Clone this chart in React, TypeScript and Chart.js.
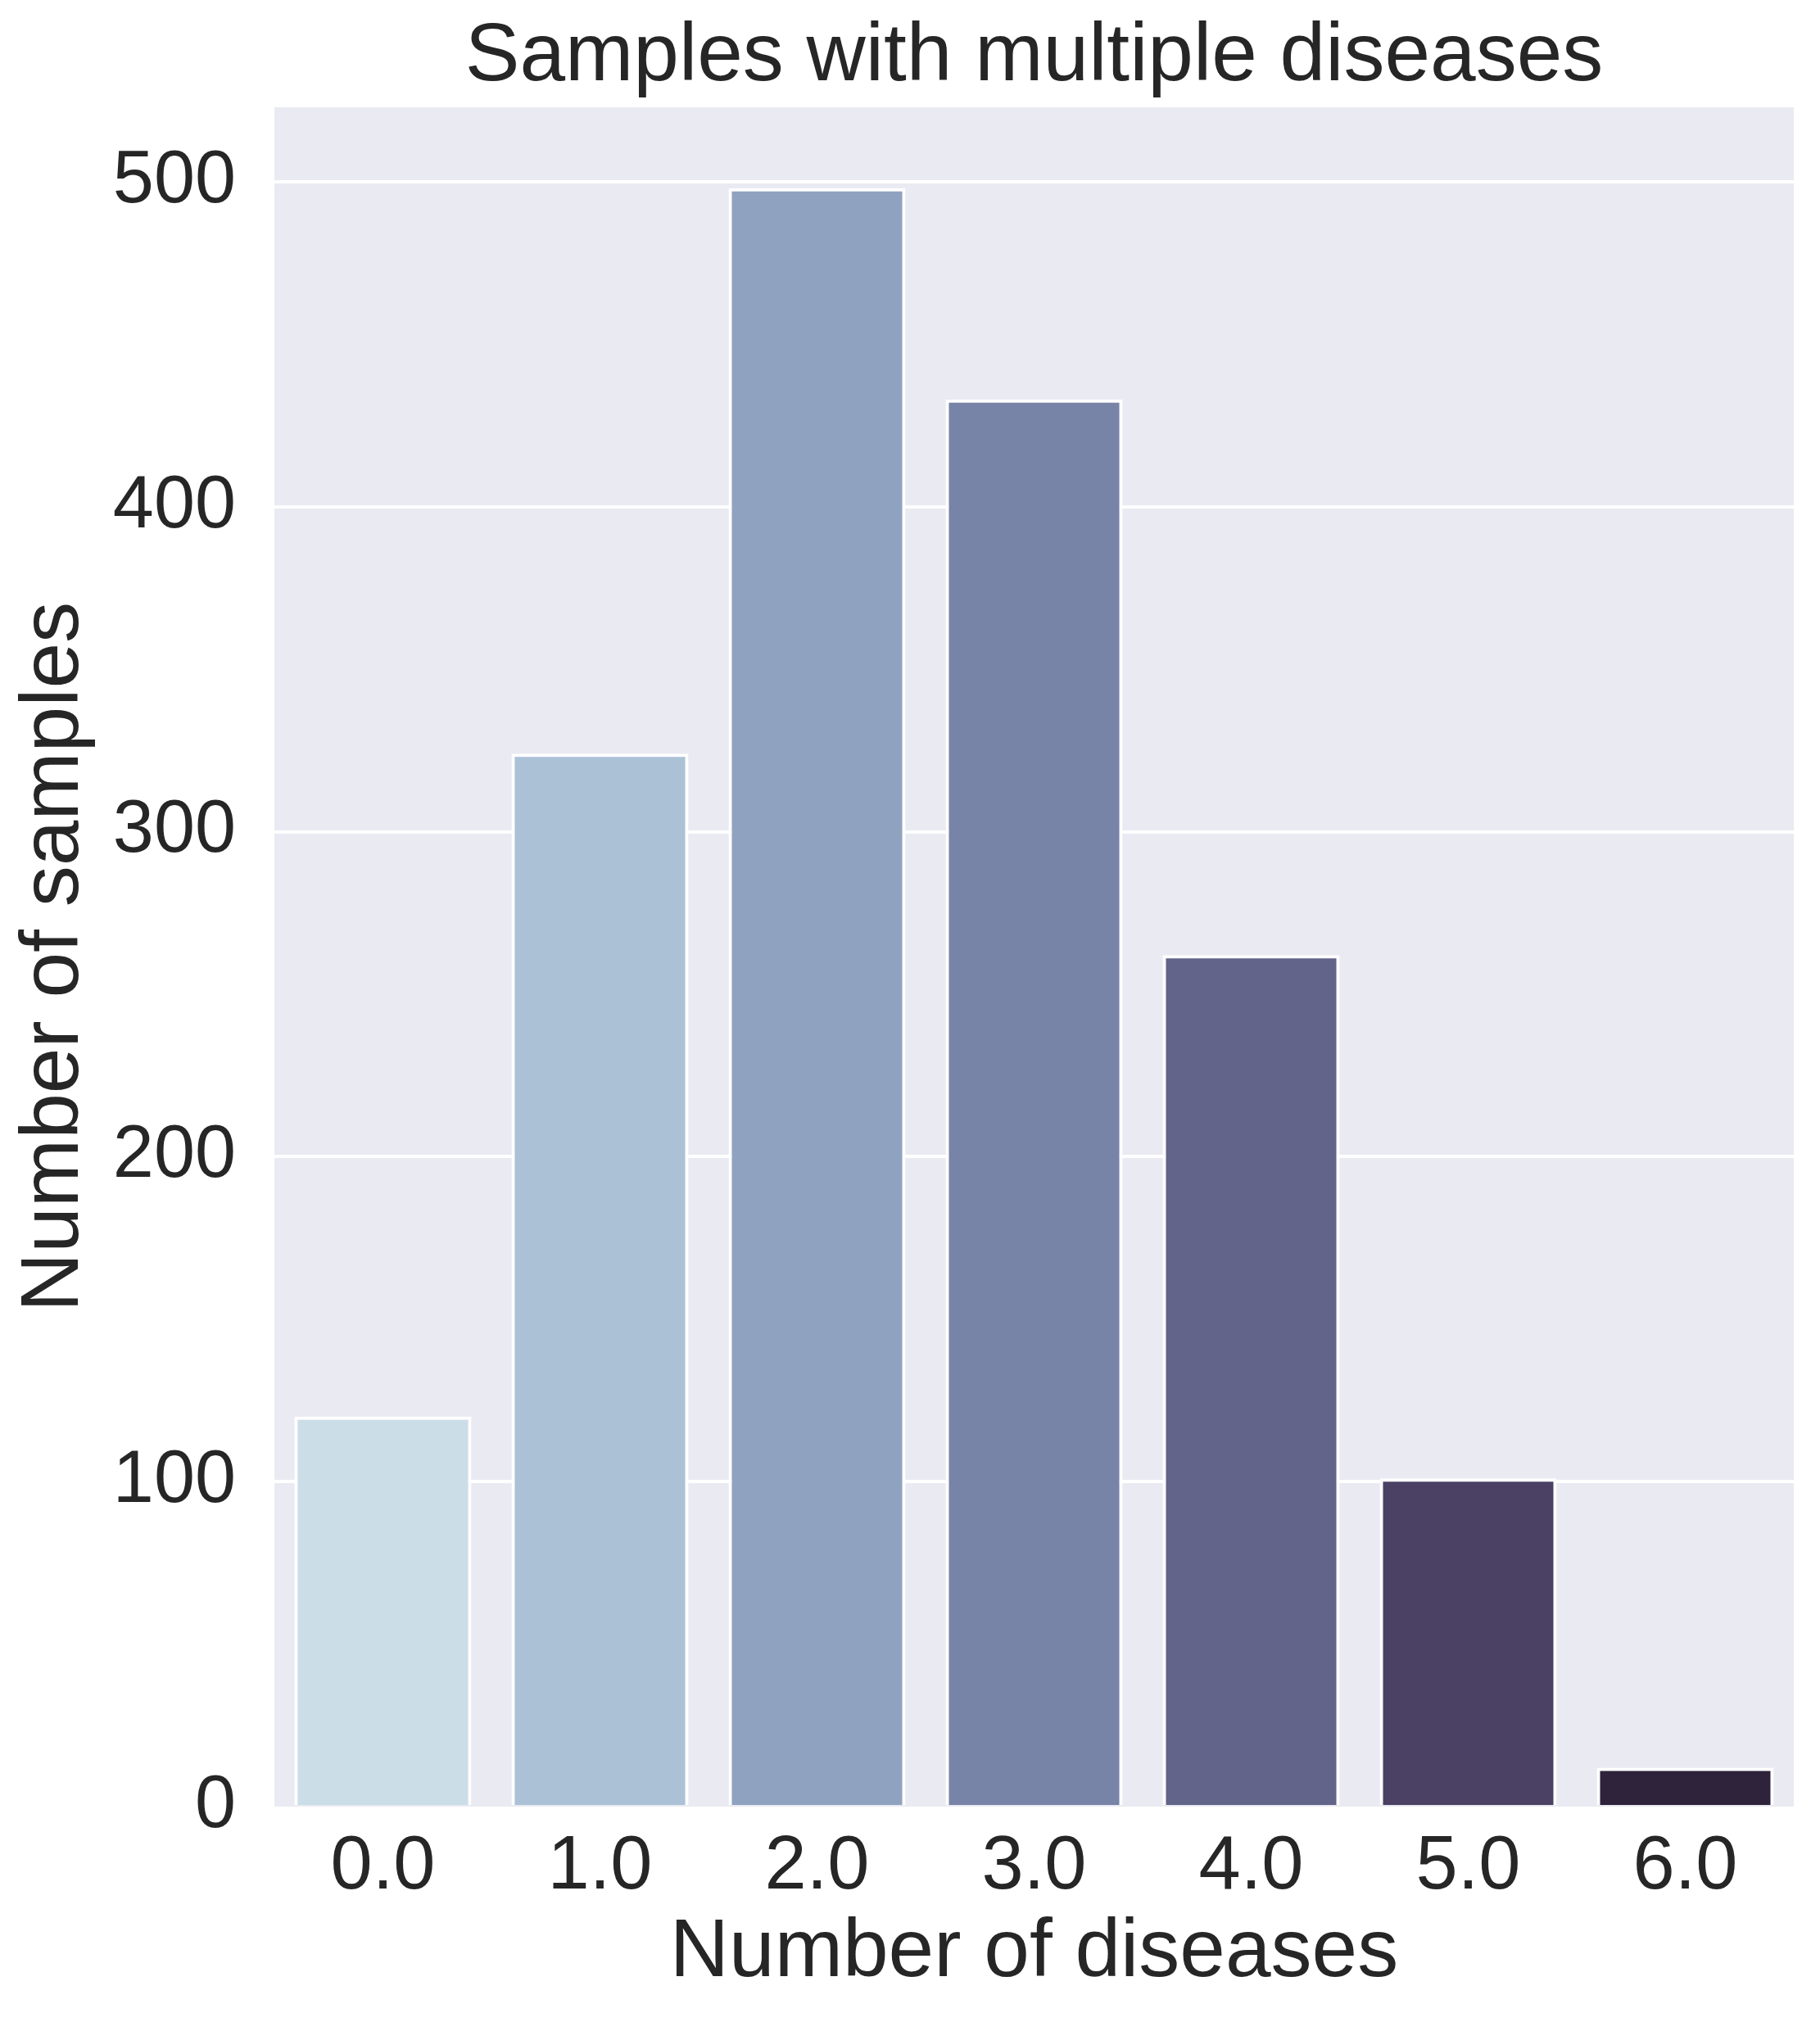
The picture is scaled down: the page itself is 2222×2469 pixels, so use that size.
import React, { useEffect, useRef } from "react";
import { Chart, registerables } from "chart.js";

Chart.register(...registerables);

// ---- data ----
const categories = ["0.0", "1.0", "2.0", "3.0", "4.0", "5.0", "6.0"];
const counts = [120, 324, 498, 433, 262, 101, 12];
const barColors = ["#CBDDE6", "#ABC1D6", "#8FA3C1", "#7883A8", "#626489", "#4A4164", "#2E233B"];
const yTicks = [0, 100, 200, 300, 400, 500];
const yMax = 522.9;

const titleText = "Samples with multiple diseases";
const xLabel = "Number of diseases";
const yLabel = "Number of samples";

const FONT = "'Liberation Sans', Arial, Helvetica, sans-serif";
const TEXT = "#262626";

const bgPlugin = {
  id: "plotBg",
  beforeDraw(chart: any) {
    const { ctx, chartArea } = chart;
    if (!chartArea) return;
    ctx.save();
    ctx.fillStyle = "#EAEAF2";
    ctx.fillRect(chartArea.left, chartArea.top, chartArea.right - chartArea.left, chartArea.bottom - chartArea.top);
    ctx.restore();
  },
};

export default function App() {
  const ref = useRef<HTMLCanvasElement | null>(null);

  useEffect(() => {
    document.body.style.margin = "0";
    document.documentElement.style.overflow = "hidden";
    const canvas = ref.current;
    if (!canvas) return;
    const chart = new Chart(canvas, {
      type: "bar",
      data: {
        labels: categories,
        datasets: [
          {
            data: counts,
            backgroundColor: barColors,
            borderColor: "#FFFFFF",
            borderWidth: 4,
            barPercentage: 0.815,
            categoryPercentage: 1.0,
          },
        ],
      },
      plugins: [bgPlugin],
      options: {
        responsive: false,
        animation: false,
        devicePixelRatio: 1,
        layout: { padding: { left: 0, right: 32, top: 0, bottom: 0 } },
        plugins: {
          legend: { display: false },
          tooltip: { enabled: false },
          title: { display: false },
        },
        scales: {
          x: {
            grid: { display: false, drawTicks: false },
            border: { display: false },
            ticks: {
              color: TEXT,
              font: { family: FONT, size: 92, lineHeight: 1.2 },
              padding: 19,
              maxRotation: 0,
              autoSkip: false,
            },
            title: {
              display: true,
              text: xLabel,
              color: TEXT,
              font: { family: FONT, size: 100, lineHeight: 1.2 },
              padding: { top: 0, bottom: 24 },
            },
            afterFit: (scale: any) => {
              scale.height = 263;
            },
          },
          xTop: {
            type: "category",
            position: "top",
            grid: { display: false, drawTicks: false },
            border: { display: false },
            ticks: { display: false },
            title: {
              display: true,
              text: titleText,
              color: TEXT,
              font: { family: FONT, size: 100, lineHeight: 1.2 },
              padding: { top: 10, bottom: 0 },
            },
            afterFit: (scale: any) => {
              scale.height = 131;
            },
          },
          y: {
            min: 0,
            max: yMax,
            grid: {
              color: (ctx: any) => (ctx.tick && ctx.tick.value === 0 ? "rgba(0,0,0,0)" : "#FFFFFF"),
              lineWidth: 4,
              drawTicks: false,
            },
            border: { display: false },
            ticks: {
              color: TEXT,
              font: { family: FONT, size: 90, lineHeight: 1.2 },
              padding: 47,
            },
            afterBuildTicks: (scale: any) => {
              scale.ticks = yTicks.map((v) => ({ value: v }));
            },
            title: {
              display: true,
              text: yLabel,
              color: TEXT,
              font: { family: FONT, size: 100, lineHeight: 1.2 },
              padding: { top: 7, bottom: 0 },
            },
            afterFit: (scale: any) => {
              scale.width = 335;
            },
          },
        },
      },
    });
    return () => chart.destroy();
  }, []);

  return <canvas ref={ref} width={2222} height={2469} style={{ display: "block", width: 2222, height: 2469 }} />;
}
